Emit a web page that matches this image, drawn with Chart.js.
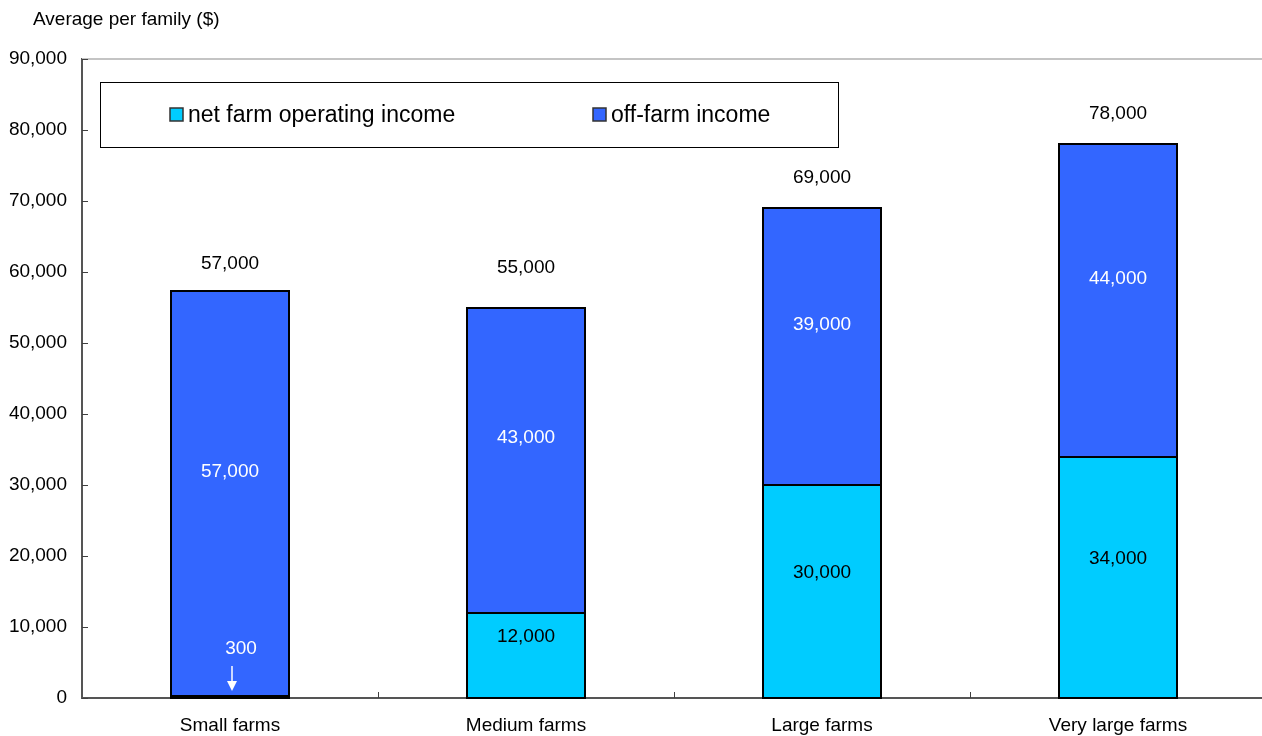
<!DOCTYPE html>
<html>
<head>
<meta charset="utf-8">
<title>Average income per farm family</title>
<script src="https://cdn.jsdelivr.net/npm/chart.js@4.4.1/dist/chart.umd.min.js"></script>
<style>
    html, body { margin: 0; padding: 0; background: #fff; overflow: hidden; }
    #wrap { width: 1270px; height: 736px; }
</style>
</head>
<body>
<div id="wrap"><canvas id="chart" width="1270" height="736"></canvas></div>
<script>
// Data
const categories = ['Small farms', 'Medium farms', 'Large farms', 'Very large farms'];
const netFarmIncome = [300, 12000, 30000, 34000];
const offFarmIncome = [57000, 43000, 39000, 44000];
const seriesNames = ['net farm operating income', 'off-farm income'];
const axisTitle = 'Average per family ($)';
const yMin = 0;
const yMax = 90000;
const yStep = 10000;

const FONT = '"Liberation Sans", Arial, sans-serif';
const NET_COLOR = '#00CCFF';
const OFF_COLOR = '#3366FF';

// label placement nudges (px above the mark), style only
const totalLift = [27, 40, 30, 30];
const segmentLift = 22;

const fmt = v => v.toLocaleString('en-US');

// Extra drawing: title, inward ticks, bar outlines, legend box, value labels
const decorations = {
    id: 'decorations',
    beforeDatasetsDraw(chart) {
        const { ctx, chartArea: a } = chart;
        ctx.save();
        // light top line
        ctx.strokeStyle = '#c4c4c4';
        ctx.lineWidth = 2;
        ctx.beginPath();
        ctx.moveTo(a.left, a.top);
        ctx.lineTo(chart.width, a.top);
        ctx.stroke();

        // axis title
        ctx.fillStyle = '#000';
        ctx.font = `19px ${FONT}`;
        ctx.textAlign = 'left';
        ctx.textBaseline = 'middle';
        ctx.fillText(axisTitle, 33, 20);
        ctx.restore();
    },
    afterDatasetsDraw(chart) {
        const { ctx, chartArea: a, scales: { x, y } } = chart;
        ctx.save();

        // crisp black outlines around every bar segment
        ctx.strokeStyle = '#000';
        ctx.lineWidth = 2;
        chart.data.datasets.forEach((ds, di) => {
            chart.getDatasetMeta(di).data.forEach(bar => {
                const l = Math.round(bar.x - bar.width / 2);
                const r = Math.round(bar.x + bar.width / 2);
                const t = Math.round(bar.y);
                const b = Math.round(bar.base);
                ctx.strokeRect(l, t, r - l, Math.max(b - t, 1));
            });
        });

        // inward tick marks
        ctx.strokeStyle = '#404040';
        ctx.lineWidth = 1;
        y.ticks.forEach((t, i) => {
            const py = Math.round(y.getPixelForTick(i)) + 0.5;
            ctx.beginPath();
            ctx.moveTo(a.left, py);
            ctx.lineTo(a.left + 6, py);
            ctx.stroke();
        });
        for (let i = 0; i < categories.length - 1; i++) {
            const px = Math.round((x.getPixelForValue(i) + x.getPixelForValue(i + 1)) / 2) + 0.5;
            ctx.beginPath();
            ctx.moveTo(px, a.bottom);
            ctx.lineTo(px, a.bottom - 6);
            ctx.stroke();
        }

        // legend box
        const bx = a.left + 18, by = a.top + 23, bw = 738, bh = 65;
        ctx.fillStyle = '#fff';
        ctx.fillRect(bx, by, bw, bh);
        ctx.strokeStyle = '#000';
        ctx.lineWidth = 1;
        ctx.strokeRect(bx + 0.5, by + 0.5, bw, bh);
        const items = [
            { name: seriesNames[0], color: NET_COLOR, sx: bx + 70 },
            { name: seriesNames[1], color: OFF_COLOR, sx: bx + 493 }
        ];
        ctx.font = `23px ${FONT}`;
        ctx.textAlign = 'left';
        ctx.textBaseline = 'middle';
        items.forEach(it => {
            ctx.fillStyle = it.color;
            ctx.fillRect(it.sx, by + 26, 13, 13);
            ctx.strokeStyle = '#333';
            ctx.lineWidth = 1.5;
            ctx.strokeRect(it.sx, by + 26, 13, 13);
            ctx.fillStyle = '#000';
            ctx.fillText(it.name, it.sx + 18, by + 34);
        });

        // value labels
        const net = chart.getDatasetMeta(0).data;
        const off = chart.getDatasetMeta(1).data;
        ctx.font = `19px ${FONT}`;
        ctx.textAlign = 'center';
        categories.forEach((c, i) => {
            const nb = net[i], ob = off[i];
            // net farm income
            if (nb.base - nb.y < 20) {
                // too thin to hold its label: put it above with an arrow
                ctx.fillStyle = '#fff';
                ctx.fillText(fmt(netFarmIncome[i]), nb.x + 11, nb.base - 49);
                ctx.strokeStyle = '#fff';
                ctx.lineWidth = 1.5;
                ctx.beginPath();
                ctx.moveTo(nb.x + 2, nb.base - 32);
                ctx.lineTo(nb.x + 2, nb.base - 14);
                ctx.stroke();
                ctx.beginPath();
                ctx.moveTo(nb.x - 3, nb.base - 17);
                ctx.lineTo(nb.x + 7, nb.base - 17);
                ctx.lineTo(nb.x + 2, nb.base - 7);
                ctx.closePath();
                ctx.fill();
            } else {
                ctx.fillStyle = '#000';
                ctx.fillText(fmt(netFarmIncome[i]), nb.x, (nb.y + nb.base) / 2 - segmentLift + 3);
            }
            // off-farm income
            ctx.fillStyle = '#fff';
            ctx.fillText(fmt(offFarmIncome[i]), ob.x, (ob.y + ob.base) / 2 - segmentLift);
            // total, rounded to thousands as in the source
            const total = Math.round((netFarmIncome[i] + offFarmIncome[i]) / 1000) * 1000;
            ctx.fillStyle = '#000';
            ctx.fillText(fmt(total), ob.x, ob.y - totalLift[i]);
        });
        ctx.restore();
    }
};

new Chart(document.getElementById('chart'), {
    type: 'bar',
    data: {
        labels: categories,
        datasets: [
            {
                label: seriesNames[0],
                data: netFarmIncome,
                backgroundColor: NET_COLOR,
                borderWidth: 0,
                inflateAmount: 0
            },
            {
                label: seriesNames[1],
                data: offFarmIncome,
                backgroundColor: OFF_COLOR,
                borderWidth: 0,
                inflateAmount: 0
            }
        ]
    },
    options: {
        responsive: false,
        animation: false,
        devicePixelRatio: 1,
        layout: { padding: { top: 59, right: 4, left: 0, bottom: 0 } },
        datasets: {
            bar: { categoryPercentage: 1, barPercentage: 0.4 }
        },
        plugins: {
            legend: { display: false },
            tooltip: { enabled: false }
        },
        scales: {
            x: {
                stacked: true,
                grid: { display: false, drawTicks: false },
                border: { display: true, color: '#555', width: 2 },
                ticks: {
                    color: '#000',
                    font: { family: FONT, size: 19 },
                    padding: 16,
                    maxRotation: 0
                },
                afterFit: scale => { scale.height = 38; }
            },
            y: {
                stacked: true,
                min: yMin,
                max: yMax,
                grid: { display: false, drawTicks: false },
                border: { display: true, color: '#555', width: 2 },
                ticks: {
                    stepSize: yStep,
                    color: '#000',
                    font: { family: FONT, size: 19 },
                    padding: 15,
                    callback: v => fmt(v)
                },
                afterFit: scale => { scale.width = 82; }
            }
        }
    },
    plugins: [decorations]
});
</script>
</body>
</html>
